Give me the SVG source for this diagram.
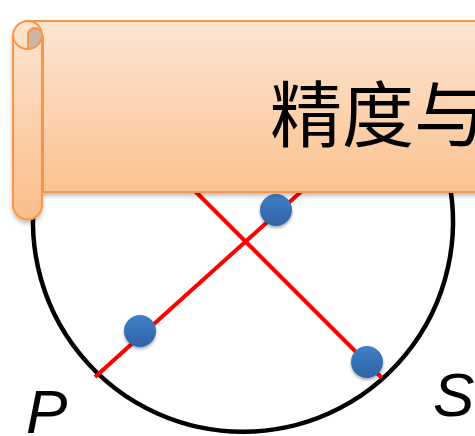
<svg xmlns="http://www.w3.org/2000/svg" width="475" height="436" viewBox="0 0 475 436">
<defs>
<style>
.red{stroke:#ff0000;stroke-width:4;fill:none}
.dot{fill:url(#dotg);filter:url(#sh)}
.lbl{font-family:"Liberation Sans",Arial,sans-serif;font-style:italic;font-size:62px;fill:#000}
.scroll{stroke:#f79646;stroke-width:2}
</style>
<linearGradient id="bg" x1="0" y1="0" x2="0" y2="1">
<stop offset="0" stop-color="#fde5d2"/>
<stop offset="1" stop-color="#fbc290"/>
</linearGradient>
<linearGradient id="rg" x1="0" y1="21" x2="0" y2="220" gradientUnits="userSpaceOnUse">
<stop offset="0" stop-color="#fde5d2"/>
<stop offset="1" stop-color="#fbbd88"/>
</linearGradient>
<linearGradient id="dotg" x1="0" y1="0" x2="0" y2="1">
<stop offset="0" stop-color="#4080c8"/>
<stop offset="1" stop-color="#2f62a6"/>
</linearGradient>
<filter id="sh" x="-30%" y="-30%" width="160%" height="170%">
<feDropShadow dx="0" dy="2" stdDeviation="1.5" flood-color="#000" flood-opacity="0.35"/>
</filter>
<filter id="bsh" x="-10%" y="-10%" width="120%" height="130%">
<feDropShadow dx="0" dy="3" stdDeviation="2" flood-color="#000" flood-opacity="0.25"/>
</filter>
</defs>
<g id="circle">
<path d="M37.2,180 A210,210 0 1 0 448.8,180" fill="none" stroke="#000" stroke-width="4.5"/>
</g>
<g id="connectors">
<line class="red" x1="95" y1="377" x2="314" y2="180"/>
<line class="red" x1="382" y1="378" x2="184" y2="180"/>
</g>
<g id="dots">
<circle class="dot" cx="140" cy="331" r="16"/>
<circle class="dot" cx="276" cy="210" r="16"/>
<circle class="dot" cx="367" cy="362" r="16"/>
</g>
<g id="banner" filter="url(#bsh)">
<path class="scroll" fill="url(#bg)" d="M28,21 H480 V192 H43 V36 Z"/>
<path class="scroll" fill="url(#rg)" d="M13,36 A15,15 0 0 1 28,21 A14,14 0 0 1 42,35 V205 A14.5,14.5 0 0 1 13,205 Z"/>
<path class="scroll" fill="#c9b6a6" d="M28,49 V35 A7,7 0 0 1 42,35 A14,14 0 0 1 28,49 Z"/>
<path class="scroll" fill="none" d="M13,36 A15,14 0 0 0 28,49"/>
<text x="270" y="141" font-family="'Noto Sans CJK SC',sans-serif" font-size="72" fill="#000">精度与</text>
</g>
<g id="labels">
<text class="lbl" x="26" y="433">P</text>
<text class="lbl" x="433" y="416">S</text>
</g>
</svg>
